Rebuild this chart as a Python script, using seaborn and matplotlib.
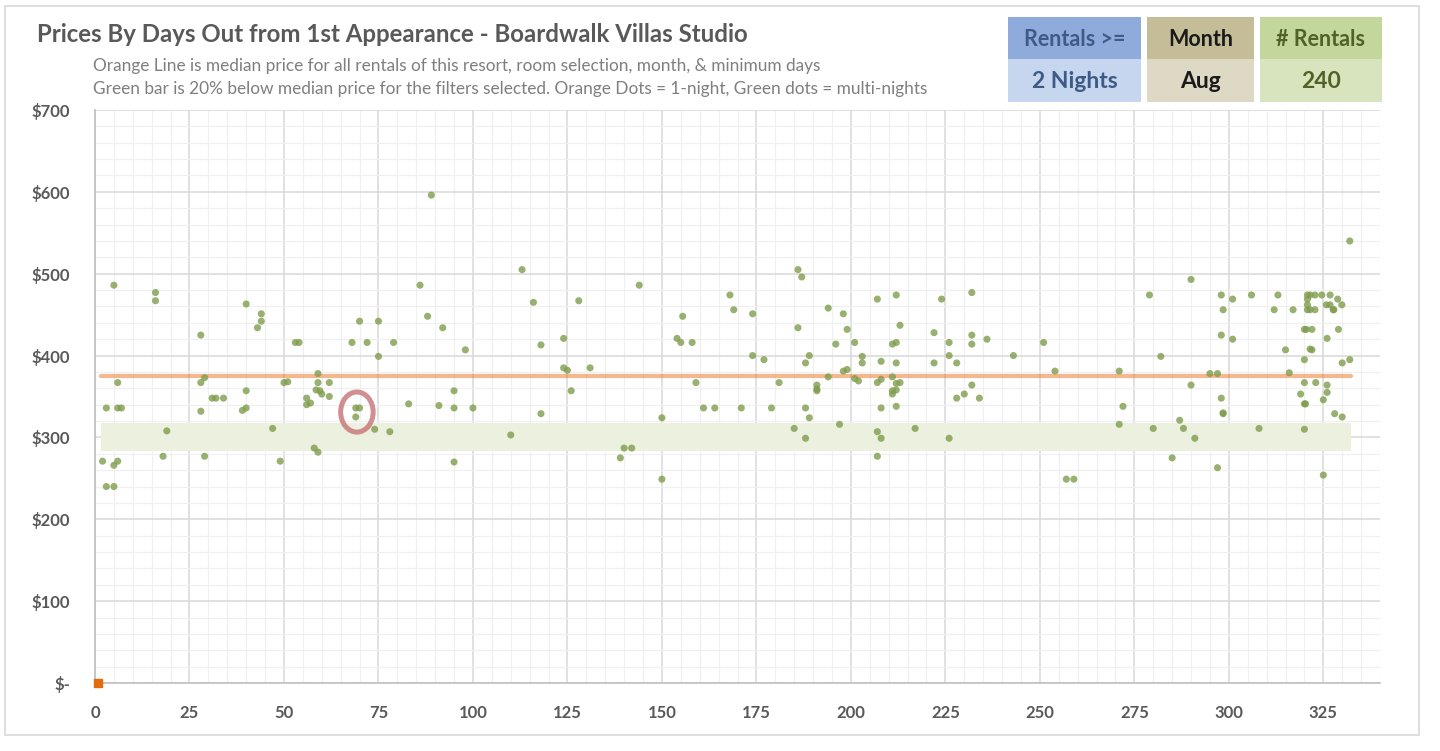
import matplotlib
matplotlib.use("Agg")
import matplotlib.pyplot as plt
from matplotlib.patches import Ellipse, Rectangle
from matplotlib.ticker import MultipleLocator, FuncFormatter
import seaborn as sns
import pandas as pd

# data (days out, price)
days = [5, 16, 16, 40, 44, 44, 43, 28, 53, 54, 68, 72, 79, 70, 75, 75, 6, 28, 29, 50,
        51, 59, 59, 62, 58.5, 59.5, 60, 62, 56, 56, 57, 40, 31, 32, 34, 40, 39, 28, 3, 6,
        7, 69, 70, 69, 74, 78, 47, 19, 58, 59, 49, 18, 29, 2, 5, 6, 3, 5,
        89, 86, 88, 92, 98, 83, 91, 95, 95, 100, 95, 110, 113, 116, 118, 118, 124, 128, 124, 125,
        126, 131, 144, 139, 140, 142, 150, 150, 155.5, 154, 155,
        158, 159, 161, 164, 168, 169, 174, 174, 171, 177, 181, 179, 186, 187, 186, 189, 188, 191,
        191, 191, 188, 189, 185, 188, 194, 194, 196, 198, 199, 198, 199, 197, 201, 203, 203, 201,
        202, 207, 208, 207, 208, 208, 207, 208, 207, 212, 213, 211, 212, 212, 211, 212, 213, 211,
        212, 211, 212, 217, 222, 222, 224, 226, 226, 228, 226, 228, 230, 232, 232, 232, 232, 234,
        236, 243, 251, 254, 257, 259, 271, 272, 271, 279, 280, 282, 285, 287, 288, 290, 290, 291,
        295, 297, 297, 298, 298.5, 298, 298, 298.5, 298.5,
        301, 301, 306, 308, 313, 312, 317, 315, 316, 320, 320.5, 322, 322, 321.5, 320, 320, 323,
        319, 320, 320.3, 320, 320.8, 321.5, 322.8, 324.6, 326.8, 320.8, 320.8, 321.5, 322.8, 320.8,
        325.8, 326.8, 327.6, 327.8, 328.8, 329.9, 329, 326, 326, 326, 325, 325, 328, 330, 330, 332,
        332]
prices = [486, 477, 467, 463, 451, 442, 434, 425, 416, 416, 416, 416, 416, 442, 442, 399, 367, 367, 373, 367,
          368, 378, 367, 367, 358, 357, 353, 350, 348, 340, 342, 357, 348, 348, 348, 336, 333, 332, 336, 336,
          336, 336, 336, 325, 310, 307, 311, 308, 287, 282, 271, 277, 277, 271, 266, 271, 240, 240,
          596, 486, 448, 434, 407, 341, 339, 357, 336, 336, 270, 303, 505, 465, 413, 329, 421, 467, 385, 382,
          357, 385, 486, 275, 287, 287, 324, 249, 448, 421, 416,
          416, 367, 336, 336, 474, 456, 451, 400, 336, 395, 367, 336, 505, 496, 434, 400, 391, 364,
          357, 359, 336, 324, 311, 299, 458, 374, 414, 451, 432, 381, 383, 316, 416, 399, 391, 372,
          369, 469, 393, 367, 371, 336, 307, 299, 277, 474, 437, 414, 416, 391, 374, 366, 367, 357,
          358, 353, 338, 311, 428, 391, 469, 416, 400, 391, 299, 348, 353, 477, 425, 414, 364, 348,
          420, 400, 416, 381, 249, 249, 381, 338, 316, 474, 311, 399, 275, 321, 311, 493, 364, 299,
          378, 378, 263, 474, 456, 425, 348, 329, 330,
          469, 420, 474, 311, 474, 456, 456, 407, 379, 432, 432, 432, 407, 408, 395, 367, 367,
          353, 341, 341, 310, 474, 474, 474, 474, 474, 469, 462, 456, 456, 456,
          462, 462, 456, 456, 469, 462, 432, 421, 364, 355, 346, 254, 329, 325, 391, 395,
          540]

median_price = 375
band_low, band_high = 283, 318
line_start, line_end = 1.7, 332.3

title = "Prices By Days Out from 1st Appearance - Boardwalk Villas Studio"
subtitle1 = "Orange Line is median price for all rentals of this resort, room selection, month, & minimum days"
subtitle2 = "Green bar is 20% below median price for the filters selected. Orange Dots = 1-night, Green dots = multi-nights"

box_headers = ["Rentals >=", "Month", "# Rentals"]
box_values = ["2 Nights", "Aug", "240"]

df = pd.DataFrame({"days": days, "price": prices})

sns.set_style("white")
plt.rcParams['font.family'] = ['Lato', 'DejaVu Sans']

fig = plt.figure(figsize=(14.4, 7.51), dpi=100)
ax = fig.add_axes([95 / 1440, 1 - 683 / 751, (1380 - 95) / 1440, (683 - 110) / 751])

# green band and median line
ax.fill_between([line_start, line_end], band_low, band_high, color='#ebf0df', zorder=1, lw=0)
ax.plot([line_start, line_end], [median_price, median_price], color='#ed7d31', alpha=0.55,
        lw=3, solid_capstyle='round', zorder=2)

sns.scatterplot(data=df, x="days", y="price", ax=ax, color='#7f9c4c', alpha=0.8,
                s=26, edgecolor='none', zorder=3, legend=False)

# single 1-night dot at origin
ax.scatter([0.8], [0], marker='s', s=30, color='#e46c0a', zorder=4, clip_on=False)

# highlight ring
ax.add_patch(Ellipse((69.3, 331), 8.6, 49, fill=False, edgecolor='#c46a6e', alpha=0.75, lw=3.6, zorder=5))

ax.set_xlim(0, 340)
ax.set_ylim(0, 700)
ax.xaxis.set_major_locator(MultipleLocator(25))
ax.xaxis.set_minor_locator(MultipleLocator(5))
ax.yaxis.set_major_locator(MultipleLocator(100))
ax.yaxis.set_minor_locator(MultipleLocator(20))
ax.set_xticks([t for t in range(0, 326, 25)])
ax.yaxis.set_major_formatter(FuncFormatter(lambda v, p: "$-" if v == 0 else f"${int(v)}"))
ax.grid(which='major', color='#d9d9d9', lw=1.1)
ax.grid(which='minor', color='#f0f0f0', lw=0.9)
ax.set_axisbelow(True)
ax.tick_params(which='both', length=0)
ax.tick_params(axis='y', pad=18)
ax.tick_params(axis='x', pad=16)
for lab in ax.get_xticklabels() + ax.get_yticklabels():
    lab.set_fontweight('bold')
    lab.set_fontsize(12)
    lab.set_color('#595959')
ax.set_xlabel("")
ax.set_ylabel("")
for side in ['top', 'right']:
    ax.spines[side].set_visible(False)
for side in ['left', 'bottom']:
    ax.spines[side].set_color('#bfbfbf')
    ax.spines[side].set_linewidth(1.2)

# outer border
fig.patches.append(Rectangle((5 / 1440, 1 - 735 / 751), 1414 / 1440, 729 / 751, transform=fig.transFigure,
                             fill=False, edgecolor='#d9d9d9', lw=1.2))

fig.text(37 / 1440, 1 - 35 / 751, title, fontsize=17.3, fontweight='bold', color='#595959', va='center')
fig.text(93 / 1440, 1 - 66 / 751, subtitle1, fontsize=12.4, color='#7f7f7f', va='center')
fig.text(93 / 1440, 1 - 89 / 751, subtitle2, fontsize=12.4, color='#7f7f7f', va='center')

# info boxes
boxes = [(1008, 1141, '#8fabdc', '#c6d6ef', '#3f5a85'),
         (1147, 1254, '#c4bd97', '#ddd9c4', '#1a1a1a'),
         (1260, 1382, '#c3d69b', '#d8e4bd', '#4f6228')]
for (x0, x1, c_top, c_bot, c_txt), head, val in zip(boxes, box_headers, box_values):
    w = (x1 - x0) / 1440
    fig.patches.append(Rectangle((x0 / 1440, 1 - 59 / 751), w, 42 / 751, transform=fig.transFigure,
                                 color=c_top, lw=0))
    fig.patches.append(Rectangle((x0 / 1440, 1 - 102 / 751), w, 43 / 751, transform=fig.transFigure,
                                 color=c_bot, lw=0))
    xc = (x0 + x1) / 2 / 1440
    fig.text(xc, 1 - 39 / 751, head, ha='center', va='center', fontsize=15.5, fontweight='bold', color=c_txt)
    fig.text(xc, 1 - 81 / 751, val, ha='center', va='center', fontsize=16.5, fontweight='bold', color=c_txt)

fig.savefig("out.png", dpi=100)
